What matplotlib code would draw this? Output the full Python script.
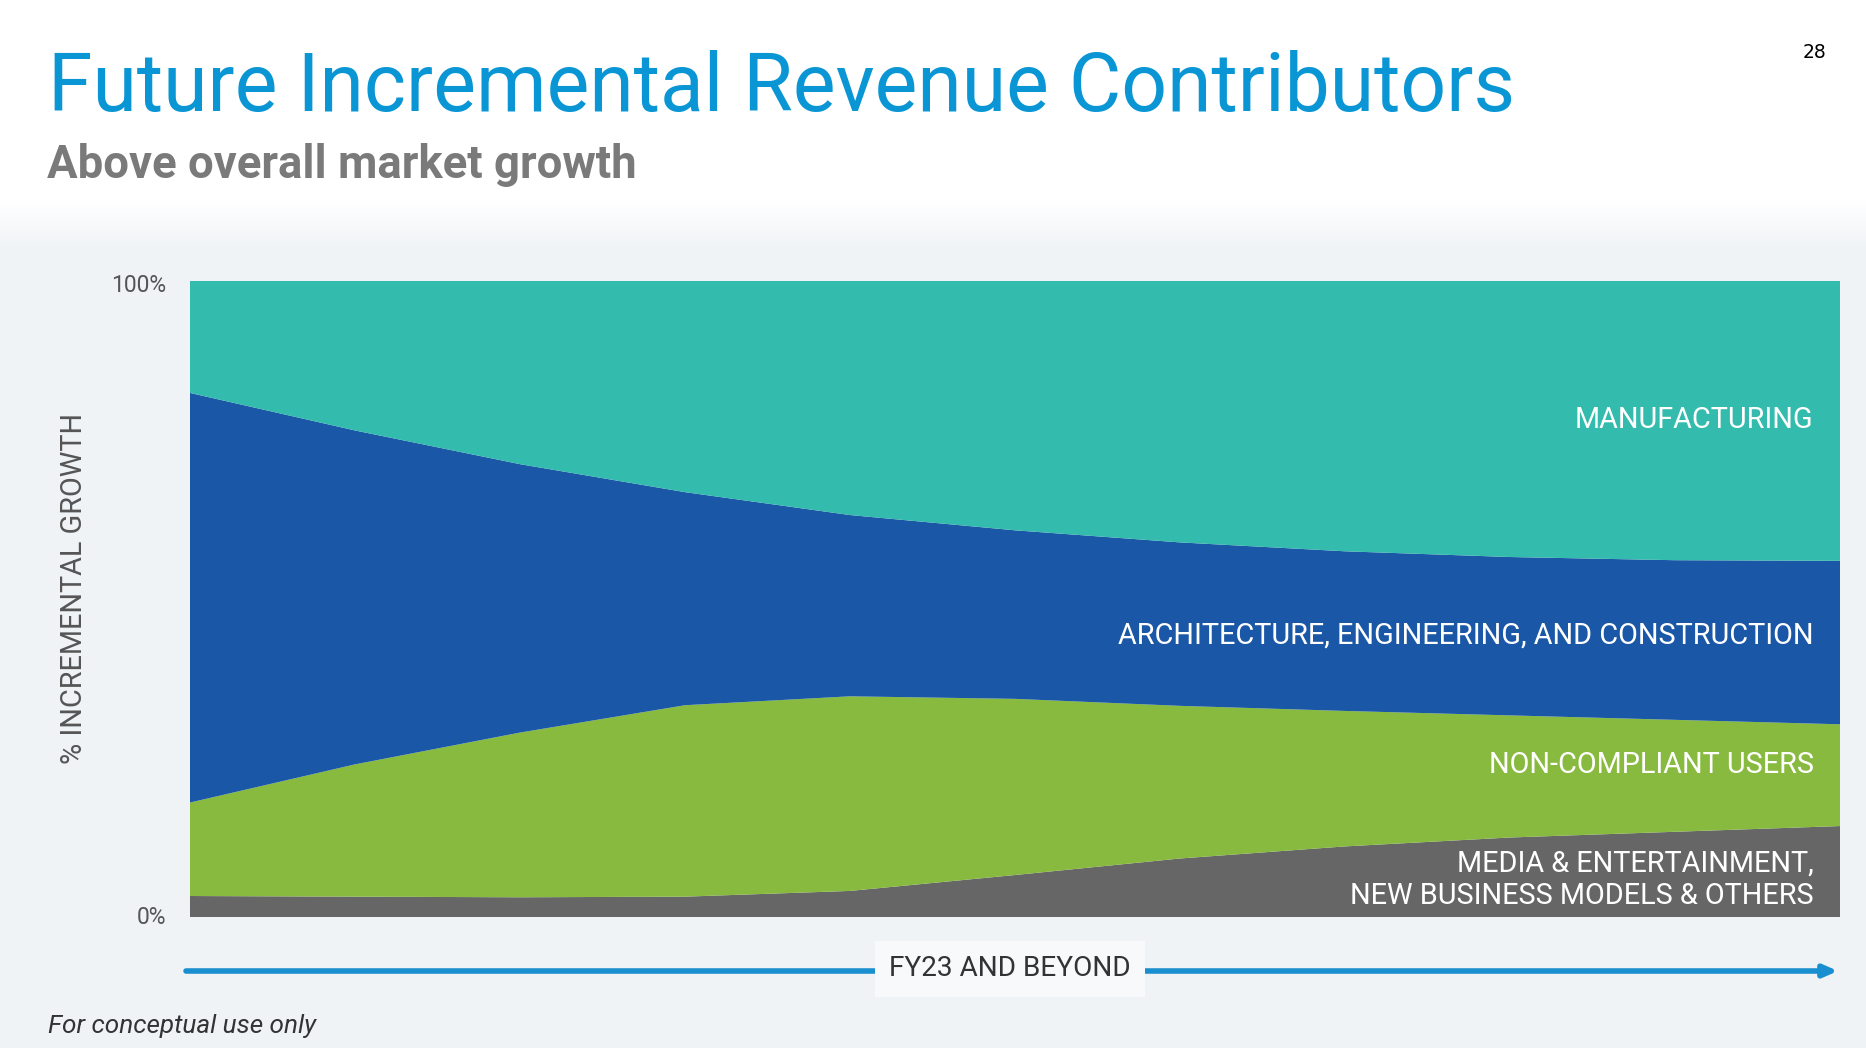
import numpy as np
import matplotlib
matplotlib.use("Agg")
import matplotlib.pyplot as plt
from matplotlib import font_manager

# data (percent of incremental growth, bottom to top)
steps = [0, 1, 2, 3, 4, 5, 6, 7, 8, 9, 10]
media_top = [3.3, 3.2, 3.1, 3.2, 4.1, 6.6, 9.2, 11.1, 12.5, 13.4, 14.3]
noncompliant_top = [18.0, 24.0, 29.0, 33.3, 34.7, 34.3, 33.2, 32.4, 31.7, 31.0, 30.3]
aec_top = [82.4, 76.5, 71.2, 66.8, 63.2, 60.8, 58.9, 57.5, 56.6, 56.1, 56.0]

media = np.array(media_top)
noncompliant = np.array(noncompliant_top) - media
aec = np.array(aec_top) - np.array(noncompliant_top)
manufacturing = 100 - np.array(aec_top)

colors = ["#666666", "#88ba40", "#1a57a7", "#33bbad"]
labels = ["MEDIA & ENTERTAINMENT,\nNEW BUSINESS MODELS & OTHERS",
          "NON-COMPLIANT USERS",
          "ARCHITECTURE, ENGINEERING, AND CONSTRUCTION",
          "MANUFACTURING"]
label_y = [5.9, 23.9, 44.3, 78.1]

names = {f.name for f in font_manager.fontManager.ttflist}
narrow = "Liberation Sans Narrow" if "Liberation Sans Narrow" in names else "Roboto"
main = "Roboto"

W, H = 1866, 1048
fig = plt.figure(figsize=(W / 100, H / 100), dpi=100)


def fx(x):
    return x / W


def fy(y):
    return 1 - y / H


# background
bg = fig.add_axes([0, 0, 1, 1])
bg.set_axis_off()
grad = np.ones((H, 1, 3))
top = np.array([1.0, 1.0, 1.0])
low = np.array([0.94, 0.953, 0.965])
for i in range(H):
    if i < 200:
        grad[i, 0] = top
    elif i < 250:
        t = (i - 200) / 50
        grad[i, 0] = top * (1 - t) + low * t
    else:
        grad[i, 0] = low
bg.imshow(grad, aspect="auto", extent=[0, 1, 0, 1])
bg.set_xlim(0, 1)
bg.set_ylim(0, 1)

# chart
x0, x1, yt, yb = 190, 1840, 281, 917
ax = fig.add_axes([fx(x0), fy(yb), fx(x1 - x0), (yb - yt) / H])
ax.stackplot(steps, media, noncompliant, aec, manufacturing, colors=colors, linewidth=0)
ax.set_xlim(steps[0], steps[-1])
ax.set_ylim(0, 100)
ax.set_axis_off()

for lab, yv in zip(labels, label_y):
    ax.text(9.84, yv, lab, color="white", ha="right", va="center",
            fontsize=20.8, family=narrow, linespacing=1.2)

# titles
fig.text(fx(48), fy(111), "Future Incremental Revenue Contributors", color="#0a96d4",
         fontsize=58, family=main, ha="left", va="baseline")
fig.text(fx(47), fy(178), "Above overall market growth", color="#7a7a7a",
         fontsize=32.8, family=main, fontweight="bold", ha="left", va="baseline")
fig.text(fx(1814), fy(53), "28", color="black", fontsize=13.5, family="DejaVu Sans",
         ha="center", va="center")

# axis texts
fig.text(fx(166), fy(286), "100%", color="#555555", fontsize=16.5, family=main,
         ha="right", va="center")
fig.text(fx(166), fy(917), "0%", color="#555555", fontsize=16.5, family=main,
         ha="right", va="center")
fig.text(fx(74), fy(588), "% INCREMENTAL GROWTH", color="#555555", fontsize=20.8,
         family=narrow, rotation=90, ha="center", va="center")

# arrow
bg.annotate("", xy=(fx(1838), fy(971)), xytext=(fx(186), fy(971)),
            arrowprops=dict(arrowstyle="-|>,head_length=0.8,head_width=0.35",
                            color="#1a8fd0", lw=4, shrinkA=0, shrinkB=0))
fig.text(fx(1010), fy(969), "FY23 AND BEYOND", color="#333333", fontsize=20.2,
         family=narrow, ha="center", va="center",
         bbox=dict(boxstyle="square,pad=0.5", fc="#f7f9fb", ec="none"))

fig.text(fx(48), fy(1026), "For conceptual use only", color="#333333", fontsize=18.8,
         family=main, style="italic", ha="left", va="center")

fig.savefig("out.png", dpi=100)
